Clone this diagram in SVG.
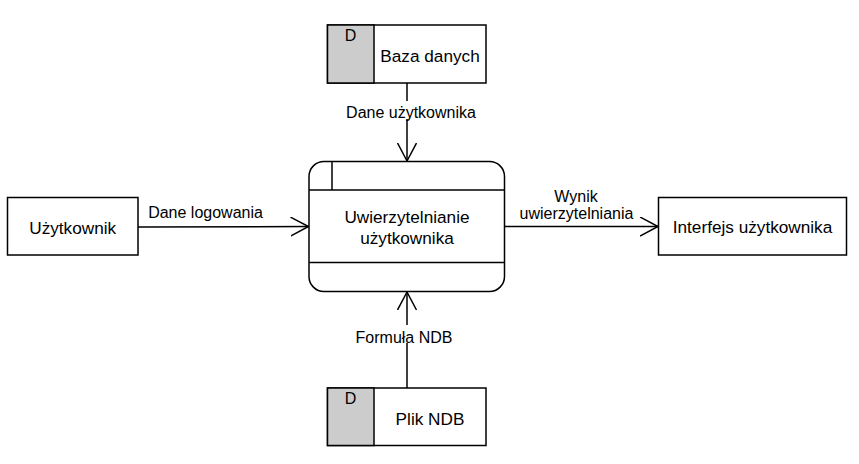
<svg xmlns="http://www.w3.org/2000/svg" width="859" height="464" viewBox="0 0 859 464">
<defs>
<style>
.box{fill:#fff;stroke:#000;stroke-width:1.5}
.gray{fill:#ccc;stroke:#000;stroke-width:1.5}
.ln{fill:none;stroke:#000;stroke-width:1.5}
.t{font-family:"Liberation Sans",Arial,sans-serif;font-size:17.2px;fill:#000;text-anchor:middle}
.lb{font-family:"Liberation Sans",Arial,sans-serif;font-size:16px;fill:#000;text-anchor:middle}
</style>
<marker id="open" markerWidth="20" markerHeight="22" refX="18" refY="10" orient="auto" markerUnits="userSpaceOnUse">
<path d="M0,0.5 L18,10 L0,19.5" fill="none" stroke="#000" stroke-width="1.5"/>
</marker>
</defs>
<rect width="859" height="464" fill="#fff"/>
<g id="connectors">
<line class="ln" x1="407" y1="83" x2="407" y2="161" marker-end="url(#open)"/>
<line class="ln" x1="407" y1="388" x2="407" y2="292" marker-end="url(#open)"/>
<line class="ln" x1="138" y1="227" x2="308.5" y2="226.5" marker-end="url(#open)"/>
<line class="ln" x1="505" y1="226.5" x2="658" y2="226.5" marker-end="url(#open)"/>
<rect x="343" y="101" width="136" height="18" fill="#fff"/>
<text class="lb" x="411" y="118">Dane użytkownika</text>
<rect x="352" y="325" width="104" height="18" fill="#fff"/>
<text class="lb" x="404" y="342.5">Formuła NDB</text>
<text class="lb" x="205.5" y="217.7">Dane logowania</text>
<text class="lb" x="576" y="201.7">Wynik</text>
<text class="lb" x="576.5" y="219.3">uwierzytelniania</text>
</g>
<g id="baza">
<rect class="box" x="327.5" y="25" width="158.5" height="58"/>
<rect class="gray" x="327.5" y="25" width="46.5" height="58"/>
<text class="lb" x="350.5" y="40.5">D</text>
<text class="t" x="430" y="61.5">Baza danych</text>
</g>
<g id="proces">
<rect class="box" x="309" y="161.5" width="195.5" height="130" rx="15" ry="15"/>
<line class="ln" x1="309" y1="190" x2="504.5" y2="190"/>
<line class="ln" x1="309" y1="262.5" x2="504.5" y2="262.5"/>
<line class="ln" x1="332" y1="161.5" x2="332" y2="190"/>
<text class="t" x="407" y="222.7">Uwierzytelnianie</text>
<text class="t" x="407" y="244.3">użytkownika</text>
</g>
<g id="plik">
<rect class="box" x="327.5" y="388" width="158.5" height="57.5"/>
<rect class="gray" x="327.5" y="388" width="46.5" height="57.5"/>
<text class="lb" x="350.5" y="404">D</text>
<text class="t" x="430" y="425">Plik NDB</text>
</g>
<g id="uzytkownik">
<rect class="box" x="7.5" y="197.5" width="130.5" height="57.5"/>
<text class="t" x="72.7" y="234">Użytkownik</text>
</g>
<g id="interfejs">
<rect class="box" x="658.5" y="197.5" width="188" height="57.5"/>
<text class="t" x="752.5" y="233.3">Interfejs użytkownika</text>
</g>
</svg>
